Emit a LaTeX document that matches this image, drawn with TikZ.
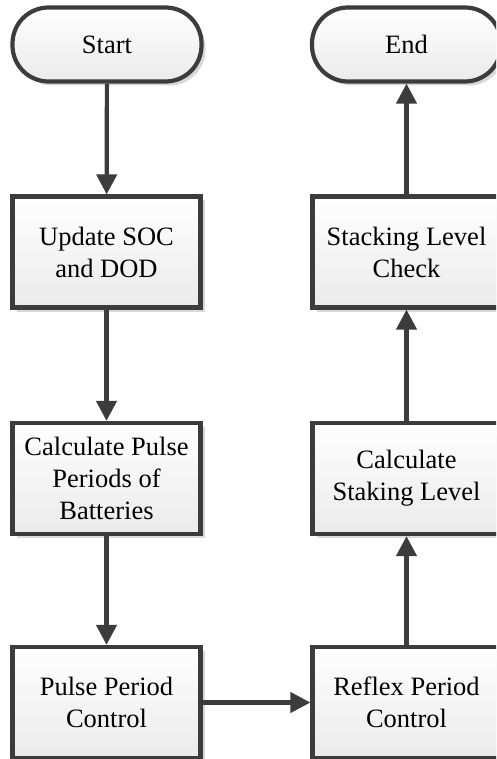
\documentclass[tikz,border=0pt]{standalone}
\usepackage{fontspec}
\setmainfont{Liberation Serif}
\usetikzlibrary{arrows.meta,shadows}
\definecolor{linec}{HTML}{3C3C3C}
\definecolor{shadc}{HTML}{D9D9D9}
\tikzset{
  base/.style={draw=linec, line width=4.2pt, top color=white, bottom color=black!8,
    align=center, inner sep=0pt, font=\rmfamily\fontsize{26.5}{32}\selectfont,
    drop shadow={shadow xshift=4pt, shadow yshift=-4pt, fill=shadc, opacity=1}},
  term/.style={base, rectangle, rounded corners=36pt, minimum width=189pt, minimum height=74pt},
  procbox/.style={base, rectangle, minimum width=188pt, minimum height=111pt},
  conn/.style={draw=linec, line width=4.2pt, -{Triangle[length=20pt,width=20pt]}}
}
\begin{document}
\begin{tikzpicture}[x=1pt,y=-1pt]
\useasboundingbox (0,0) rectangle (496,759);
\clip (0,0) rectangle (496,759);
\fill[white] (0,0) rectangle (496,759);
\node[term] (start) at (107,44.5) {Start};
\node[term] (end) at (406.5,44.5) {End};
\node[procbox] (upd) at (106.5,252) {Update SOC\\and DOD};
\node[procbox] (calc) at (106.5,478.5) {Calculate Pulse\\Periods of\\Batteries};
\node[procbox] (ppc) at (106.5,702.5) {Pulse Period\\Control};
\node[procbox] (chk) at (406.5,252) {Stacking Level\\Check};
\node[procbox] (stk) at (406.5,478.5) {Calculate\\Staking Level};
\node[procbox] (rpc) at (406.5,702.5) {Reflex Period\\Control};
\draw[conn] (start) -- (upd);
\draw[conn] (upd) -- (calc);
\draw[conn] (calc) -- (ppc);
\draw[conn] (ppc) -- (rpc);
\draw[conn] (rpc) -- (stk);
\draw[conn] (stk) -- (chk);
\draw[conn] (chk) -- (end);
\end{tikzpicture}
\end{document}
